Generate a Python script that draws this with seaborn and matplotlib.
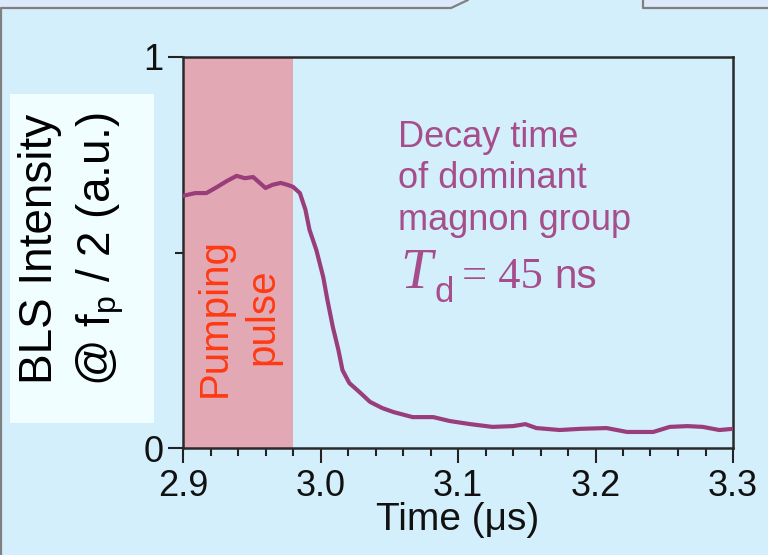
import matplotlib
matplotlib.use("Agg")
import matplotlib.pyplot as plt
import seaborn as sns
import pandas as pd
from matplotlib.patches import Rectangle, Polygon
from matplotlib.lines import Line2D
from matplotlib.ticker import MultipleLocator, FixedLocator

# ---------------- data ----------------
time_us = [2.900, 2.909, 2.917, 2.925, 2.932, 2.939, 2.945, 2.951, 2.960, 2.965,
           2.971, 2.976, 2.980, 2.985, 2.989, 2.992, 2.997, 3.002, 3.005, 3.009,
           3.013, 3.016, 3.021, 3.029, 3.036, 3.045, 3.053, 3.067, 3.082, 3.094,
           3.109, 3.125, 3.140, 3.149, 3.157, 3.174, 3.189, 3.208, 3.223, 3.242,
           3.254, 3.267, 3.278, 3.290, 3.300]
intensity = [0.645, 0.652, 0.652, 0.668, 0.683, 0.696, 0.690, 0.693, 0.665, 0.673,
             0.678, 0.673, 0.668, 0.652, 0.610, 0.558, 0.506, 0.437, 0.379, 0.309,
             0.251, 0.199, 0.166, 0.141, 0.118, 0.102, 0.092, 0.079, 0.079, 0.069,
             0.061, 0.054, 0.056, 0.061, 0.051, 0.046, 0.049, 0.051, 0.041, 0.041,
             0.054, 0.056, 0.054, 0.046, 0.049]
pulse_start, pulse_end = 2.90, 2.98
x_ticks = [2.9, 3.0, 3.1, 3.2, 3.3]
x_ticklabels = ["2.9", "3.0", "3.1", "3.2", "3.3"]
y_ticks = [0, 1]
y_ticklabels = ["0", "1"]
annotation_lines = ["Decay time", "of dominant", "magnon group"]

df = pd.DataFrame({"time": time_us, "intensity": intensity})

# ---------------- style ----------------
BG = "#d4effc"
PINK = "#e2a8b4"
CURVE = "#993e7b"
TEXTC = "#a64d8b"
RED = "#ff3a12"
GRAY = "#808080"

sns.set_theme(style="ticks")
plt.rcParams['font.family'] = ['Liberation Sans', 'DejaVu Sans']
plt.rcParams['mathtext.fontset'] = 'custom'
plt.rcParams['mathtext.rm'] = 'Liberation Serif'
plt.rcParams['mathtext.it'] = 'Liberation Serif:italic'
plt.rcParams['mathtext.sf'] = 'Liberation Sans'

W, H = 768, 555
fig = plt.figure(figsize=(W / 100, H / 100), dpi=100, facecolor=BG)

def px(x, y):
    return (x / W, 1 - y / H)

# presentation frame remnants
fig.patches.append(Polygon([px(0, 0), px(468, 0), px(451, 8), px(0, 8)],
                           closed=True, transform=fig.transFigure,
                           facecolor="#dce9fb", edgecolor="none"))
fig.patches.append(Polygon([px(643, 0), px(768, 0), px(768, 8), px(643, 8)],
                           closed=True, transform=fig.transFigure,
                           facecolor="#dce9fb", edgecolor="none"))
for pts in ([(1, 555), (1, 8), (451, 8), (468, 0)], [(643, 0), (643, 8), (768, 8)]):
    xs = [px(*p)[0] for p in pts]
    ys = [px(*p)[1] for p in pts]
    fig.lines.append(Line2D(xs, ys, transform=fig.transFigure, color=GRAY, lw=1.6))

# white label box
fig.patches.append(Rectangle(px(10, 423), 144 / W, 329 / H, transform=fig.transFigure,
                             facecolor="#f0feff", edgecolor="none"))

ax = fig.add_axes([183 / W, 1 - 448 / H, 550 / W, 391 / H])
ax.set_facecolor("none")

ax.axvspan(pulse_start, pulse_end, color=PINK, zorder=0, lw=0)
sns.lineplot(data=df, x="time", y="intensity", ax=ax, color=CURVE, lw=3.0,
             zorder=3)

ax.set_xlim(2.9, 3.3)
ax.set_ylim(0, 1)
ax.xaxis.set_major_locator(FixedLocator(x_ticks))
ax.set_xticklabels(x_ticklabels)
ax.xaxis.set_minor_locator(MultipleLocator(0.02))
ax.yaxis.set_major_locator(FixedLocator(y_ticks))
ax.set_yticklabels(y_ticklabels)
ax.yaxis.set_minor_locator(FixedLocator([0.5]))

ax.tick_params(axis="both", which="major", direction="out", length=11, width=1.5,
               color="#222222", labelsize=26, labelcolor="#111111")
ax.tick_params(axis="both", which="minor", direction="out", length=5.5, width=1.5,
               color="#222222")
ax.tick_params(axis="x", which="major", pad=4)
ax.tick_params(axis="y", which="major", pad=3)

for s in ax.spines.values():
    s.set_linewidth(1.8)
    s.set_color("#2a2a2a")

ax.set_xlabel("Time (μs)", fontsize=28, color="#111111", labelpad=-1)
ax.set_ylabel("")

# annotations
for line, yv in zip(annotation_lines, [0.770, 0.665, 0.558]):
    ax.text(3.056, yv, line, fontsize=26, color=TEXTC, ha="left", va="baseline")

# T_d = 45 ns (mixed serif / sans, large italic T)
fig.text(*px(400, 288), "T", fontsize=41, family="Liberation Serif", style="italic",
         color=TEXTC, ha="left", va="baseline")
fig.text(*px(434, 302), "d", fontsize=25, family="Liberation Sans",
         color=TEXTC, ha="left", va="baseline")
fig.text(*px(462, 288), "= 45", fontsize=32, family="Liberation Serif",
         color=TEXTC, ha="left", va="baseline")
fig.text(*px(554, 288), "ns", fontsize=29, family="Liberation Sans",
         color=TEXTC, ha="left", va="baseline")

ax.text(2.9405, 0.335, "Pumping\npulse", rotation=90, fontsize=29, color=RED,
        ha="center", va="center", multialignment="center", linespacing=1.3, zorder=4)

# y label (two rotated lines on white box)
fig.text(*px(40, 249), "BLS Intensity", rotation=90, fontsize=33, color="black",
         ha="center", va="center")
fig.text(*px(100, 249), r"@ $\mathsf{f}_\mathsf{p}$ / 2 (a.u.)", rotation=90,
         fontsize=33, color="black", ha="center", va="center")

fig.savefig("out.png", dpi=100, facecolor=BG)
